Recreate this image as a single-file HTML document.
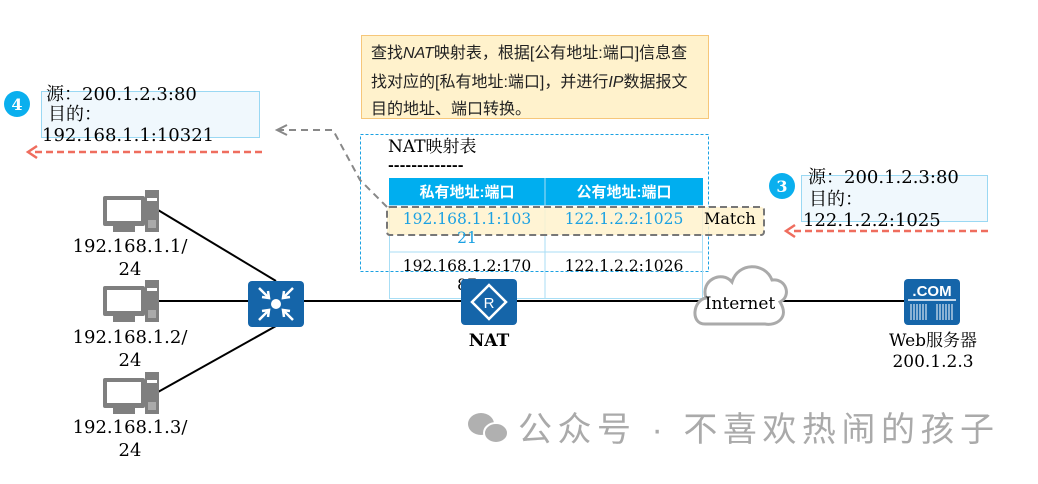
<!DOCTYPE html>
<html><head><meta charset="utf-8"><style>
body{margin:0;background:#fff}
svg{display:block}
text{font-family:"DejaVu Serif","Noto Serif CJK SC",serif}
.s{font-family:"Liberation Sans","Noto Sans CJK SC",sans-serif}
</style></head><body>
<svg width="1038" height="484" viewBox="0 0 1038 484" xmlns="http://www.w3.org/2000/svg">
<g stroke="#000" stroke-width="2">
<line x1="158" y1="210" x2="276" y2="281"/>
<line x1="158" y1="301" x2="250" y2="301"/>
<line x1="158" y1="392" x2="276" y2="326"/>
<line x1="302" y1="301" x2="908" y2="301"/>
</g>
<rect x="361.5" y="35.5" width="347" height="83" fill="#fff2cc" stroke="#f6c77a"/>
<text class="s" font-size="16" fill="#222"><tspan x="371" y="58">查找<tspan font-style="italic">NAT</tspan>映射表，根据[公有地址:端口]信息查</tspan><tspan x="371" y="87">找对应的[私有地址:端口]，并进行<tspan font-style="italic">IP</tspan>数据报文</tspan><tspan x="371" y="114">目的地址、端口转换。</tspan></text>
<rect x="360.5" y="134.5" width="348" height="137" fill="#fff" stroke="#1ba1e2" stroke-dasharray="3,2"/>
<text x="388" y="152" font-size="17">NAT映射表</text>
<text x="388" y="170" font-size="14" font-weight="bold">-------------</text>
<rect x="389" y="178" width="314" height="27" fill="#00aeef"/>
<line x1="545" y1="178" x2="545" y2="299" stroke="#a8def5"/>
<rect x="389.5" y="205.5" width="313" height="93" fill="none" stroke="#a8def5"/>
<line x1="389" y1="252" x2="703" y2="252" stroke="#a8def5"/>
<text class="s" x="467" y="197" font-size="15" font-weight="bold" fill="#fff" text-anchor="middle">私有地址:端口</text>
<text class="s" x="624" y="197" font-size="15" font-weight="bold" fill="#fff" text-anchor="middle">公有地址:端口</text>
<rect x="387" y="207" width="377" height="28" rx="3" fill="#fff2cc" fill-opacity="0.85" stroke="#777" stroke-width="2" stroke-dasharray="7,4"/>
<text x="467" y="224" font-size="15.5" fill="#1ba1e2" text-anchor="middle">192.168.1.1:103</text>
<text x="467" y="243" font-size="15.5" fill="#1ba1e2" text-anchor="middle">21</text>
<text x="624" y="224" font-size="15.5" fill="#1ba1e2" text-anchor="middle">122.1.2.2:1025</text>
<text x="704" y="224" font-size="16">Match</text>
<text x="467" y="271" font-size="15.5" text-anchor="middle">192.168.1.2:170</text>
<text x="467" y="290" font-size="15.5" text-anchor="middle">87</text>
<text x="624" y="271" font-size="15.5" text-anchor="middle">122.1.2.2:1026</text>
<polyline points="387,207 360,180 333,130 278,130" fill="none" stroke="#888" stroke-width="2" stroke-dasharray="7,5"/>
<polyline points="287,125 277,130 287,135" fill="none" stroke="#888" stroke-width="2"/>
<rect x="41.5" y="91.5" width="218" height="46" fill="#f0f8fd" stroke="#9ad8f3"/>
<text font-size="18"><tspan x="46" y="100">源：200.1.2.3:80</tspan><tspan x="48" y="120">目的：</tspan><tspan x="42" y="141">192.168.1.1:10321</tspan></text>
<circle cx="17" cy="104" r="13" fill="#0aafee"/>
<text x="17" y="110" font-size="16" font-weight="bold" fill="#fff" text-anchor="middle">4</text>
<line x1="262" y1="152" x2="32" y2="152" stroke="#ef6d5e" stroke-width="2.5" stroke-dasharray="7,4"/>
<polyline points="37,146 28,152 37,158" fill="none" stroke="#ef6d5e" stroke-width="2.5"/>
<rect x="801.5" y="175.5" width="186" height="46" fill="#f0f8fd" stroke="#9ad8f3"/>
<text font-size="18"><tspan x="808" y="183">源：200.1.2.3:80</tspan><tspan x="809" y="205">目的：</tspan><tspan x="803" y="226">122.1.2.2:1025</tspan></text>
<circle cx="782" cy="186" r="13" fill="#0aafee"/>
<text x="782" y="192" font-size="16" font-weight="bold" fill="#fff" text-anchor="middle">3</text>
<line x1="988" y1="231" x2="790" y2="231" stroke="#ef6d5e" stroke-width="2.5" stroke-dasharray="7,4"/>
<polyline points="795,225 786,231 795,237" fill="none" stroke="#ef6d5e" stroke-width="2.5"/>
<defs><g id="pc">
<rect x="0" y="6" width="42" height="30" rx="2" fill="#7f7f7f"/>
<rect x="4" y="10" width="34" height="21" fill="#fff"/>
<rect x="10" y="36" width="22" height="6" fill="#7f7f7f"/>
<rect x="42" y="0" width="14" height="42" fill="#7f7f7f"/>
<rect x="44" y="8" width="10" height="3" fill="#fff"/>
<rect x="45" y="30" width="8" height="8" fill="#aaa"/>
</g></defs>
<use href="#pc" x="103" y="190"/>
<use href="#pc" x="103" y="280"/>
<use href="#pc" x="103" y="372"/>
<g font-size="18" text-anchor="middle">
<text x="130" y="252">192.168.1.1/</text><text x="130" y="275">24</text>
<text x="130" y="343">192.168.1.2/</text><text x="130" y="366">24</text>
<text x="130" y="433">192.168.1.3/</text><text x="130" y="456">24</text>
</g>
<rect x="248" y="281" width="56" height="46" rx="4" fill="#1565a9"/>
<circle cx="276" cy="304" r="5" fill="#fff"/>
<g stroke="#fff" stroke-width="2.5" fill="none">
<line x1="259" y1="288" x2="269" y2="298"/><polyline points="262,297 269,298 268,291"/>
<line x1="293" y1="288" x2="283" y2="298"/><polyline points="290,297 283,298 284,291"/>
<line x1="259" y1="320" x2="269" y2="310"/><polyline points="262,311 269,310 268,317"/>
<line x1="293" y1="320" x2="283" y2="310"/><polyline points="290,311 283,310 284,317"/>
</g>
<rect x="461" y="279" width="56" height="46" rx="4" fill="#1565a9"/>
<polygon points="489,285 506,302 489,319 472,302" fill="none" stroke="#fff" stroke-width="2.5"/>
<text class="s" x="489" y="308" font-size="15" fill="#fff" text-anchor="middle">R</text>
<text x="489" y="346" font-size="17" font-weight="bold" text-anchor="middle">NAT</text>
<path d="M705,324 C690,324 693,300 706,298 C700,280 722,270 732,282 C738,262 765,262 772,280 C786,278 792,296 780,302 C790,318 776,326 765,324 Z" fill="#fff" stroke="#aaa" stroke-width="3"/>
<text x="740" y="309" font-size="17" text-anchor="middle">Internet</text>
<rect x="904" y="279" width="56" height="46" rx="4" fill="#1565a9"/>
<text class="s" x="932" y="296" font-size="15" font-weight="bold" fill="#fff" text-anchor="middle">.COM</text>
<line x1="908" y1="300" x2="956" y2="300" stroke="#fff" stroke-width="1.5"/>
<g stroke="#fff" stroke-width="1">
<line x1="911" y1="304" x2="911" y2="320"/><line x1="914" y1="304" x2="914" y2="320"/><line x1="917" y1="304" x2="917" y2="320"/><line x1="920" y1="304" x2="920" y2="320"/><line x1="923" y1="304" x2="923" y2="320"/><line x1="926" y1="304" x2="926" y2="320"/>
<line x1="937" y1="304" x2="937" y2="320"/><line x1="940" y1="304" x2="940" y2="320"/><line x1="943" y1="304" x2="943" y2="320"/><line x1="946" y1="304" x2="946" y2="320"/><line x1="949" y1="304" x2="949" y2="320"/><line x1="952" y1="304" x2="952" y2="320"/>
</g>
<text x="933" y="346" font-size="17" text-anchor="middle">Web服务器</text>
<text x="933" y="367" font-size="17" text-anchor="middle">200.1.2.3</text>
<g fill="#b0b0b0">
<ellipse cx="481" cy="424" rx="13" ry="11"/>
<ellipse cx="496" cy="433" rx="12" ry="10" stroke="#fff" stroke-width="2"/>
</g>
<text class="s" x="518" y="441" font-size="34" fill="#aaa" textLength="476">公众号 · 不喜欢热闹的孩子</text>
</svg>
</body></html>
